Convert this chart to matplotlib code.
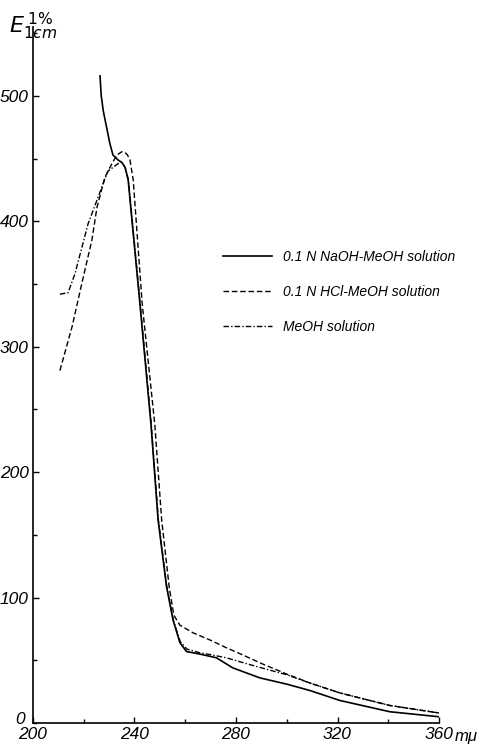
import matplotlib
matplotlib.use("Agg")
import matplotlib.pyplot as plt
from matplotlib.ticker import MultipleLocator, FixedLocator

# ---- data ----
naoh_x = [226.4, 226.9, 227.7, 229.0, 230.3, 231.5, 233.5, 235.0, 236.3, 237.5, 242.1, 246.5,
          249.3, 252.6, 255.2, 257.9, 260.5, 265.7, 272.3, 278.7, 289.4, 300.0, 309.0,
          320.9, 340.6, 360.0]
naoh_y = [516, 500, 488, 475, 462, 453, 449, 447, 443, 433, 335, 238,
          162, 109, 82, 64, 57, 55, 52, 44, 36, 31, 26,
          18, 9, 5]

hcl_x = [210.6, 215.4, 219.3, 223.2, 225.2, 228.3, 231.1, 233.1, 235.0, 236.2, 237.2,
         238.2, 239.5, 243.0, 248.0, 250.7, 253.7, 255.5, 257.9, 263.0, 270.0, 276.2,
         283.0, 289.4, 300.0, 309.0, 320.9, 340.6, 360.0]
hcl_y = [281, 316, 351, 385, 411, 435, 446, 453, 455.5, 455, 453,
         449, 433, 335, 238, 162, 108, 86, 78, 72, 66, 60,
         54, 48, 39, 32, 24, 14, 8]

meoh_x = [210.6, 213.8, 216.5, 221.7, 225.6, 229.5, 233.5, 235.0, 236.3, 237.6, 242.2,
          246.6, 249.4, 252.7, 255.3, 258.0, 260.6, 265.7, 270.0, 276.2, 283.0, 290.0,
          300.0, 309.0, 320.9, 340.6, 360.0]
meoh_y = [342, 343, 358, 398, 419, 440, 446, 447, 443, 433, 335,
          238, 162, 109, 82, 65, 59, 56, 54.5, 52, 48, 44,
          38.5, 32, 24, 14, 8]

labels = ["0.1 N NaOH-MeOH solution", "0.1 N HCl-MeOH solution", "MeOH solution"]
x_major = [200, 240, 280, 320, 360]
y_major = [100, 200, 300, 400, 500]

plt.rcParams['font.family'] = ['Liberation Sans', 'DejaVu Sans']

fig = plt.figure(figsize=(4.81, 7.45), dpi=100)
ax = fig.add_axes([0.0686, 0.0295, 0.8441, 0.9343])

l1, = ax.plot(naoh_x, naoh_y, color='black', lw=1.2, ls='-')
l2, = ax.plot(hcl_x, hcl_y, color='black', lw=1.0, ls=(0, (4, 2)))
l3, = ax.plot(meoh_x, meoh_y, color='black', lw=1.0, ls=(0, (4, 1.5, 1, 1.5)))

ax.set_xlim(200, 360)
ax.set_ylim(0, 555)
for s in ['top', 'right']:
    ax.spines[s].set_visible(False)
for s in ['left', 'bottom']:
    ax.spines[s].set_linewidth(1.2)

ax.xaxis.set_major_locator(FixedLocator(x_major))
ax.xaxis.set_minor_locator(MultipleLocator(20))
ax.yaxis.set_major_locator(FixedLocator(y_major))
ax.yaxis.set_minor_locator(MultipleLocator(50))
ax.tick_params(axis='both', which='both', direction='in', width=1.0)
ax.tick_params(axis='both', which='major', length=4, labelsize=12.5)
ax.tick_params(axis='both', which='minor', length=3)
ax.tick_params(axis='x', pad=3)
ax.tick_params(axis='y', pad=3)
for t in ax.get_xticklabels() + ax.get_yticklabels():
    t.set_fontstyle('italic')

# origin label of the y axis, placed above the x tick labels as in the reference
ax.annotate("0", xy=(200, 0), xytext=(-8, 4), textcoords='offset pixels',
            ha='right', va='center', fontsize=12.5, fontstyle='italic',
            annotation_clip=False)
fig.text(455 / 481, 1 - 736 / 745, "mμ", ha='left', va='center',
         fontsize=12, fontstyle='italic')
fig.text(0.018, 0.965, r'$\mathit{E}^{\,1\%}_{1cm}$', fontsize=16, ha='left', va='center')

leg = ax.legend([l1, l2, l3], labels, loc='upper left',
                bbox_to_anchor=(223 / 481, 1 - 250 / 745), bbox_transform=fig.transFigure,
                frameon=False, handlelength=3.5, labelspacing=1.5, handletextpad=0.8,
                borderpad=0, borderaxespad=0,
                prop={'size': 10, 'style': 'italic'})

fig.savefig("out.png", dpi=100)
